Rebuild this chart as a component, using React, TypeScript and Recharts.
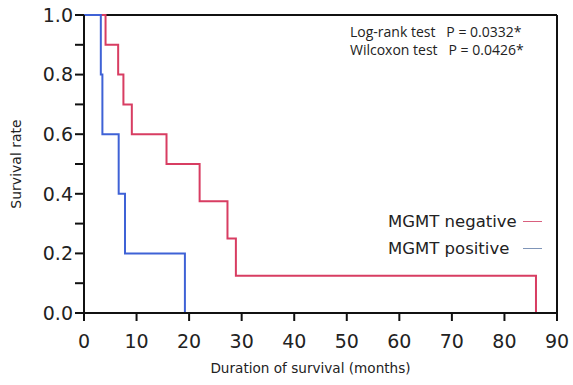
import React from "react";
import { LineChart, Line, XAxis, YAxis, ReferenceLine, Legend } from "recharts";

// Kaplan-Meier estimates (months, survival rate)
const negTimes = [0, 4.1, 6.5, 7.5, 9.1, 15.7, 22.0, 27.3, 28.9, 86.0];
const negSurv = [1.0, 0.9, 0.8, 0.7, 0.6, 0.5, 0.375, 0.25, 0.125, 0.0];
const posTimes = [0, 3.2, 3.5, 6.6, 7.8, 19.2];
const posSurv = [1.0, 0.8, 0.6, 0.4, 0.2, 0.0];

const xTicks = [0, 10, 20, 30, 40, 50, 60, 70, 80, 90];
const yTicks = [0, 0.1, 0.2, 0.3, 0.4, 0.5, 0.6, 0.7, 0.8, 0.9, 1.0];

const statLines = ["Log-rank test   P = 0.0332*", "Wilcoxon test   P = 0.0426*"];

const RED = "#d83d62";
const BLUE = "#3f62d6";
// legend swatches look paler in the original
const swatch: Record<string, string> = { "MGMT negative": "#d9607e", "MGMT positive": "#7f95b8" };

const negData = negTimes.map((t, i) => ({ t, s: negSurv[i] }));
const posData = posTimes.map((t, i) => ({ t, s: posSurv[i] }));

const font = "'DejaVu Sans', Verdana, sans-serif";

function LegendBox({ payload }: any) {
  return (
    <div style={{ fontFamily: font, fontSize: 16.5, color: "#222" }}>
      {(payload || []).map((p: any) => (
        <div key={p.value} style={{ display: "flex", alignItems: "center", height: 27 }}>
          <span style={{ width: 135 }}>{p.value}</span>
          <span style={{ display: "inline-block", width: 19, height: 1.5, background: swatch[p.value] || p.color }} />
        </div>
      ))}
    </div>
  );
}

export default function App() {
  return (
    <div style={{ position: "absolute", left: 0, top: 0, width: 573, height: 385, background: "#fff" }}>
      <LineChart width={573} height={385} margin={{ top: 15, right: 16, left: 0, bottom: 10 }}>
        <XAxis
          dataKey="t"
          type="number"
          domain={[0, 90]}
          ticks={xTicks}
          allowDuplicatedCategory={false}
          height={62}
          tickSize={8}
          tickMargin={14}
          stroke="#111"
          strokeWidth={2}
          tick={{ fill: "#222", fontSize: 19, fontFamily: font }}
          label={{
            value: "Duration of survival (months)",
            position: "insideBottom",
            offset: 2,
            dx: -10,
            style: { fill: "#222", fontSize: 13.6, fontFamily: font },
          }}
        />
        <YAxis
          type="number"
          domain={[0, 1]}
          ticks={yTicks}
          width={84}
          tickSize={9}
          tickMargin={2}
          stroke="#111"
          strokeWidth={2}
          tick={{ fill: "#222", fontSize: 19, fontFamily: font }}
          tickFormatter={(v: number) => (Math.round(v * 10) % 2 === 0 ? v.toFixed(1) : "")}
          label={{
            value: "Survival rate",
            angle: -90,
            position: "insideLeft",
            offset: 16,
            style: { fill: "#222", fontSize: 14, fontFamily: font, textAnchor: "middle" },
          }}
        />
        <ReferenceLine y={1} stroke="#111" strokeWidth={2} />
        <ReferenceLine x={90} stroke="#111" strokeWidth={2} />
        <Legend
          layout="horizontal"
          verticalAlign="middle"
          align="center"
          content={<LegendBox />}
          wrapperStyle={{ position: "absolute", left: 388, top: 208, width: 180 }}
        />
        <Line
          name="MGMT negative"
          data={negData}
          dataKey="s"
          type="stepAfter"
          stroke={RED}
          strokeWidth={2}
          dot={false}
          isAnimationActive={false}
        />
        <Line
          name="MGMT positive"
          data={posData}
          dataKey="s"
          type="stepAfter"
          stroke={BLUE}
          strokeWidth={2}
          dot={false}
          isAnimationActive={false}
        />
      </LineChart>
      <div
        style={{
          position: "absolute",
          left: 350,
          top: 23,
          fontFamily: "'Open Sans', sans-serif",
          fontSize: 14,
          lineHeight: "18px",
          color: "#222",
          whiteSpace: "pre",
        }}
      >
        {statLines.map((l) => (
          <div key={l}>{l}</div>
        ))}
      </div>
    </div>
  );
}
